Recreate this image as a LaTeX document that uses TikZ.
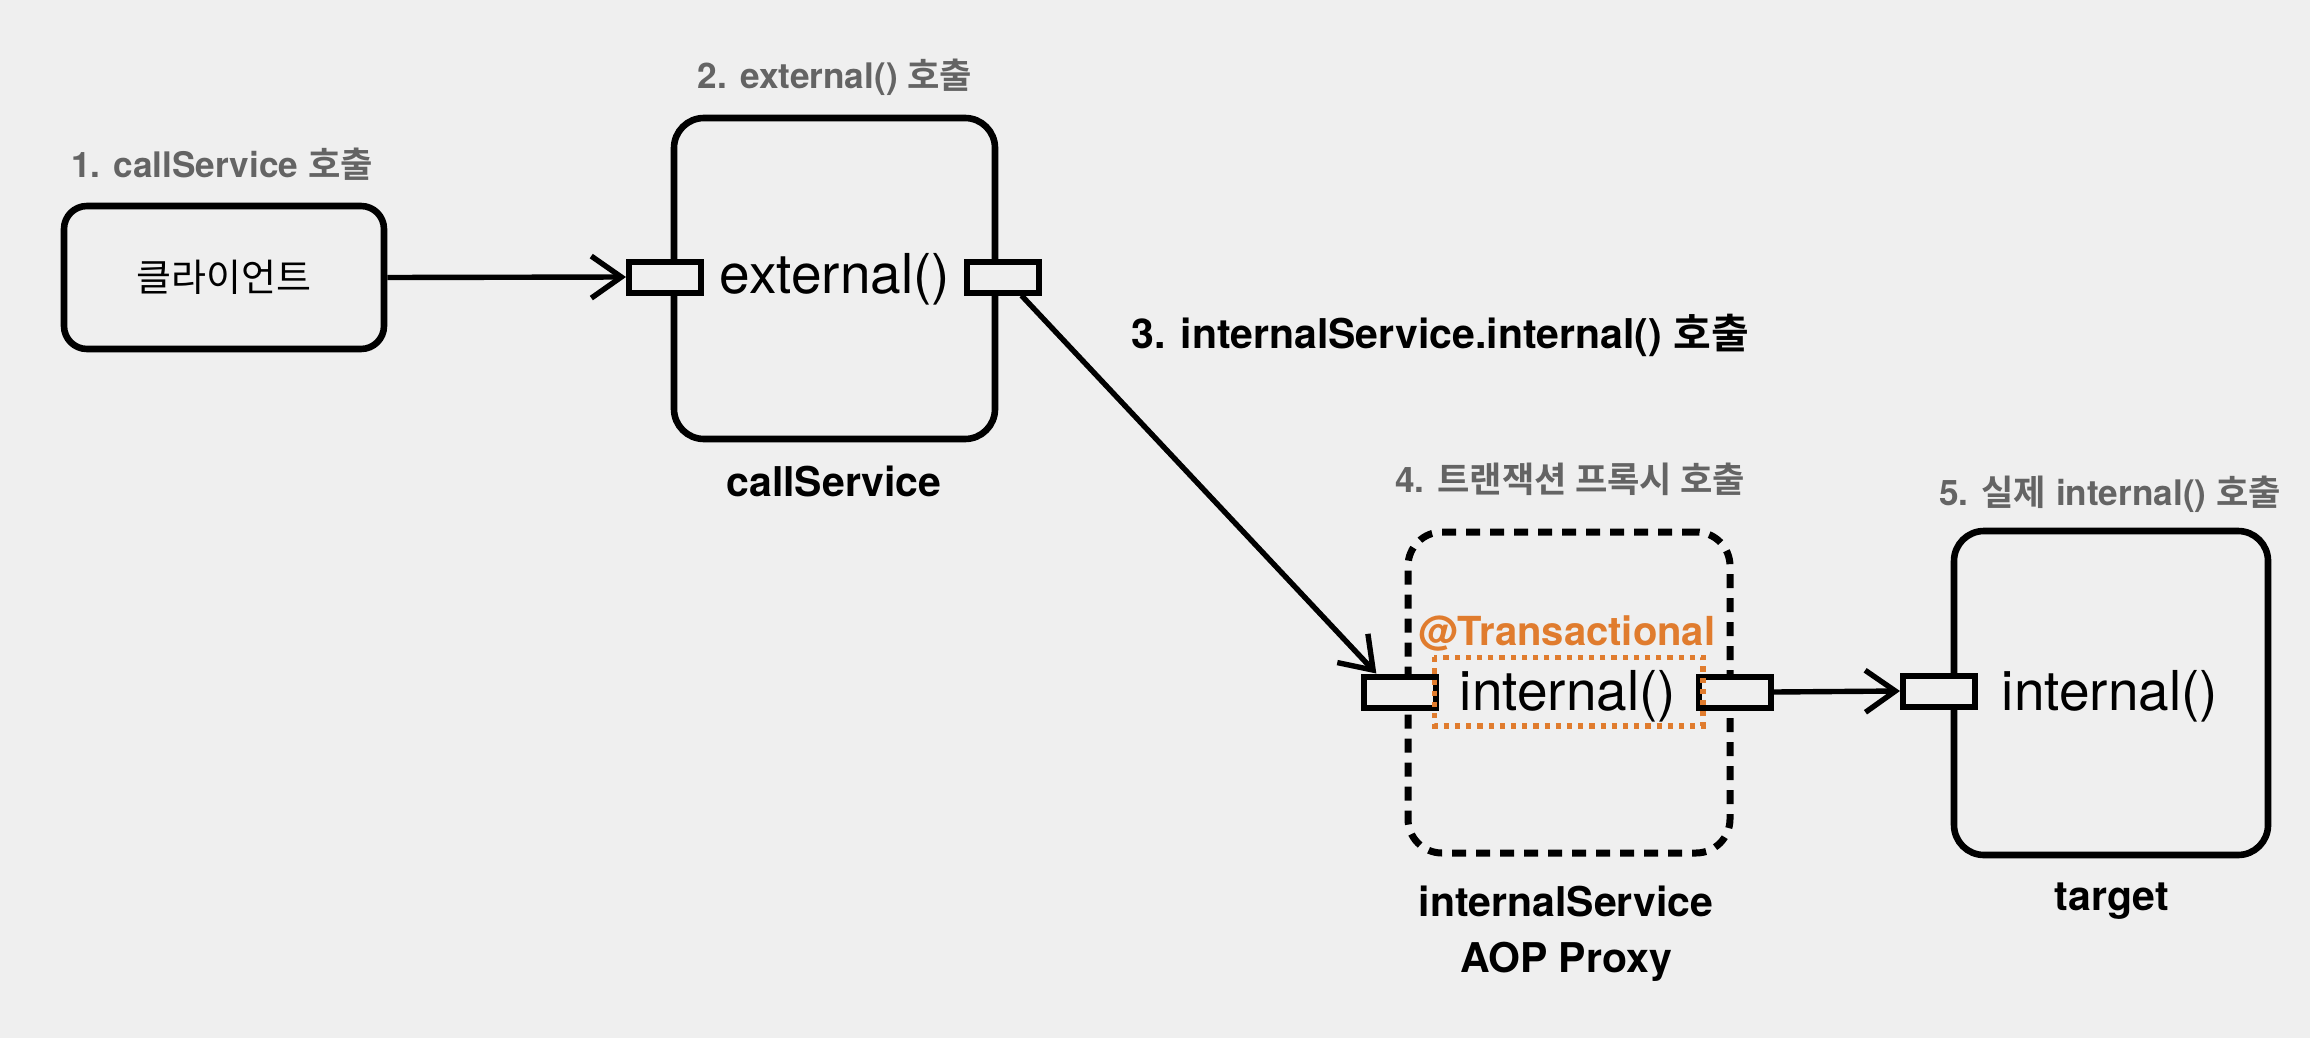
\documentclass[tikz,border=0pt]{standalone}
\usepackage{fontspec}
\setmainfont{TeX Gyre Heros}
\newfontfamily\kr[BoldFont={Noto Sans CJK KR Bold}]{Noto Sans CJK KR}
\usetikzlibrary{arrows.meta}
\definecolor{bg}{RGB}{239,239,239}
\definecolor{lbl}{RGB}{100,100,100}
\definecolor{orng}{RGB}{224,124,46}
\begin{document}
\begin{tikzpicture}[x=0.5pt,y=-0.5pt,
  box/.style={draw, line width=3.3pt, rounded corners=15pt, inner sep=0pt},
  proxybox/.style={draw, line width=3.5pt, rounded corners=17pt, inner sep=0pt,
    dash pattern=on 7pt off 5pt},
  port/.style={draw, line width=3pt, fill=bg, minimum width=36pt, minimum height=15.5pt, inner sep=0pt},
  arr/.style={line width=2.7pt, -{Straight Barb[length=15pt,width=21pt,line width=2.7pt]}},
  graylbl/.style={text=lbl, font=\fontsize{17.6}{20}\selectfont\bfseries, anchor=base, inner sep=0pt},
  blacklbl/.style={text=black, font=\fontsize{20.5}{28}\selectfont\bfseries, inner sep=0pt},
  method/.style={font=\fontsize{27.5}{30}\selectfont, anchor=base, inner sep=0pt},
  dotted rect/.style={draw=orng, line width=2.6pt, dash pattern=on 2.6pt off 3pt}
]
\fill[bg] (0,0) rectangle (2310,1038);
\useasboundingbox (0,0) rectangle (2310,1038);

% client
\node[graylbl] (l1) at (222,177) {1. callService {\kr 호출}};
\node[box, rounded corners=11.5pt, minimum width=160pt, minimum height=71.5pt,
  font=\kr\fontsize{19}{22}\selectfont] (client) at (224,277.5) {클라이언트};

% callService
\node[graylbl] (l2) at (835,89) {2. external() {\kr 호출}};
\node[box, minimum width=160.5pt, minimum height=160.5pt] (cs) at (834.5,278.5) {};
\node[port] (p1l) at (665,277) {};
\node[port] (p1r) at (1003,277) {};
\node[method] (ext) at (835,293) {external()};
\node[blacklbl, anchor=base] (csname) at (834,496) {callService};

% step 3 label
\node[blacklbl, anchor=base] (l3) at (1440,348) {3. internalService.internal() {\kr 호출}};

% proxy
\node[graylbl] (l4) at (1570,492) {4. {\kr 트랜잭션 프록시 호출}};
\node[proxybox, minimum width=161pt, minimum height=160.5pt] (proxy) at (1569,692.5) {};
\node[port] (p2l) at (1400,692) {};
\node[port] (p2r) at (1735,692) {};
\node[method] (int1) at (1568,710) {internal()};
\node[draw=none, inner sep=0pt, minimum width=134pt, minimum height=34pt] (txbox) at (1568.5,691.5) {};
\draw[dotted rect] (txbox.north west) rectangle (txbox.south east);
\node[text=orng, font=\fontsize{20}{24}\selectfont\bfseries, anchor=base, inner sep=0pt] (tx) at (1567,645) {@Transactional};
\node[blacklbl, align=center] (pname) at (1566,934) {internalService\\AOP Proxy};

% target
\node[graylbl] (l5) at (2110,505) {5. {\kr 실제} internal() {\kr 호출}};
\node[box, minimum width=157pt, minimum height=162pt] (target) at (2111,693) {};
\node[port] (p3) at (1939,691) {};
\node[method] (int2) at (2110,710) {internal()};
\node[blacklbl, anchor=base] (tname) at (2112,910) {target};

% connectors
\draw[arr] (client.east) -- (p1l.west);
\draw[arr] (p1r.-45) -- (p2l.142);
\draw[arr] (p2r.east) -- (p3.west);
\end{tikzpicture}
\end{document}
